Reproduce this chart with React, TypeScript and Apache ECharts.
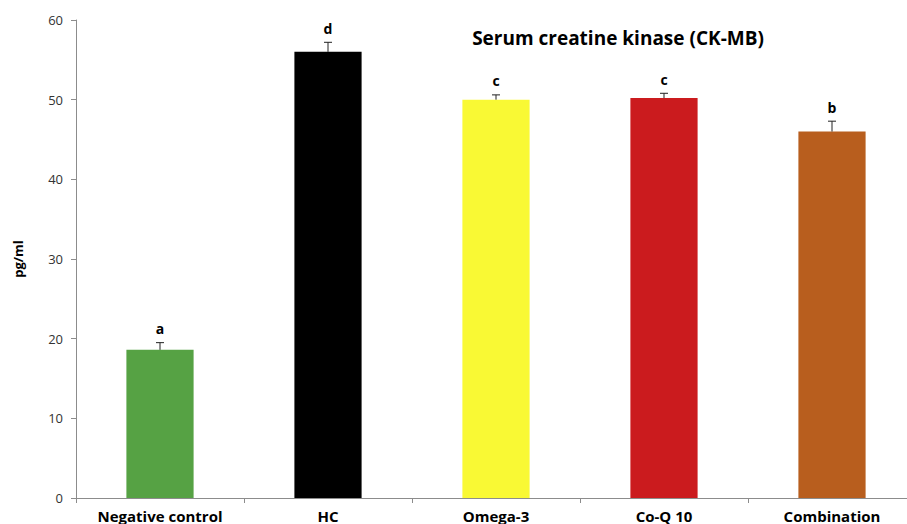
import React, { useEffect, useRef } from "react";
import * as echarts from "echarts";

// Serum CK-MB by treatment group (pg/ml), mean with upper SE bar and significance letter
const categories = ["Negative control", "HC", "Omega-3", "Co-Q 10", "Combination"];
const means = [18.6, 56.0, 50.0, 50.2, 46.0];
const errors = [0.9, 1.2, 0.6, 0.6, 1.3];
const letters = ["a", "d", "c", "c", "b"];
const barColors = ["#56A244", "#000000", "#F9F934", "#CB1B1E", "#B85E1E"];
const yTicks = { min: 0, max: 60, interval: 10 };

const FONT = "'Open Sans', 'Noto Sans', sans-serif";

export default function App() {
  const ref = useRef<HTMLDivElement>(null);

  useEffect(() => {
    if (!ref.current) return;
    const chart = echarts.init(ref.current, null, { renderer: "svg" });

    chart.setOption({
      animation: false,
      backgroundColor: "#ffffff",
      title: {
        text: "Serum creatine kinase (CK-MB)",
        left: 613,
        top: 23,
        textAlign: "center",
        textStyle: { fontFamily: FONT, fontWeight: "bold", fontSize: 19, color: "#000" },
      },
      // the plot area runs slightly past the right edge of the visible frame
      grid: { left: 76, top: 20, width: 840, height: 478 },
      xAxis: {
        type: "category",
        data: categories,
        axisLine: { lineStyle: { color: "#8c8c8c", width: 1 } },
        axisTick: { show: true, length: 5, lineStyle: { color: "#8c8c8c" } },
        axisLabel: {
          margin: 10,
          fontFamily: FONT,
          fontWeight: "bold",
          fontSize: 15,
          color: "#000",
        },
      },
      yAxis: {
        type: "value",
        min: yTicks.min,
        max: yTicks.max,
        interval: yTicks.interval,
        name: "pg/ml",
        nameLocation: "middle",
        nameGap: 52,
        nameRotate: 90,
        nameTextStyle: { fontFamily: FONT, fontWeight: "bold", fontSize: 13, color: "#000" },
        axisLine: { show: true, lineStyle: { color: "#8c8c8c", width: 1 } },
        axisTick: { show: true, length: 5, lineStyle: { color: "#8c8c8c" } },
        splitLine: { show: false },
        axisLabel: { margin: 13, fontFamily: FONT, fontSize: 13, color: "#333" },
      },
      series: [
        {
          type: "bar",
          barWidth: "40%",
          data: means.map((v, i) => ({ value: v, itemStyle: { color: barColors[i] } })),
        },
        {
          type: "custom",
          z: 5,
          data: means.map((v, i) => [i, v, errors[i]]),
          renderItem: (params: any, api: any) => {
            const idx = params.dataIndex;
            const x = api.value(0);
            const mean = api.value(1);
            const err = api.value(2);
            const base = api.coord([x, mean]);
            const top = api.coord([x, mean + err]);
            const stroke = { stroke: "#222", lineWidth: 1 };
            return {
              type: "group",
              children: [
                { type: "line", shape: { x1: top[0], y1: base[1], x2: top[0], y2: top[1] }, style: stroke },
                { type: "line", shape: { x1: top[0] - 4, y1: top[1], x2: top[0] + 4, y2: top[1] }, style: stroke },
                {
                  type: "text",
                  style: {
                    text: letters[idx],
                    x: top[0],
                    y: top[1] - 14,
                    align: "center",
                    verticalAlign: "middle",
                    font: `bold 14px ${FONT}`,
                    fill: "#000",
                  },
                },
              ],
            };
          },
        },
      ],
    });

    return () => chart.dispose();
  }, []);

  return (
    <div style={{ position: "fixed", left: 0, top: 0, width: 907, height: 524, overflow: "hidden" }}>
      <div ref={ref} style={{ width: 930, height: 524 }} />
    </div>
  );
}
